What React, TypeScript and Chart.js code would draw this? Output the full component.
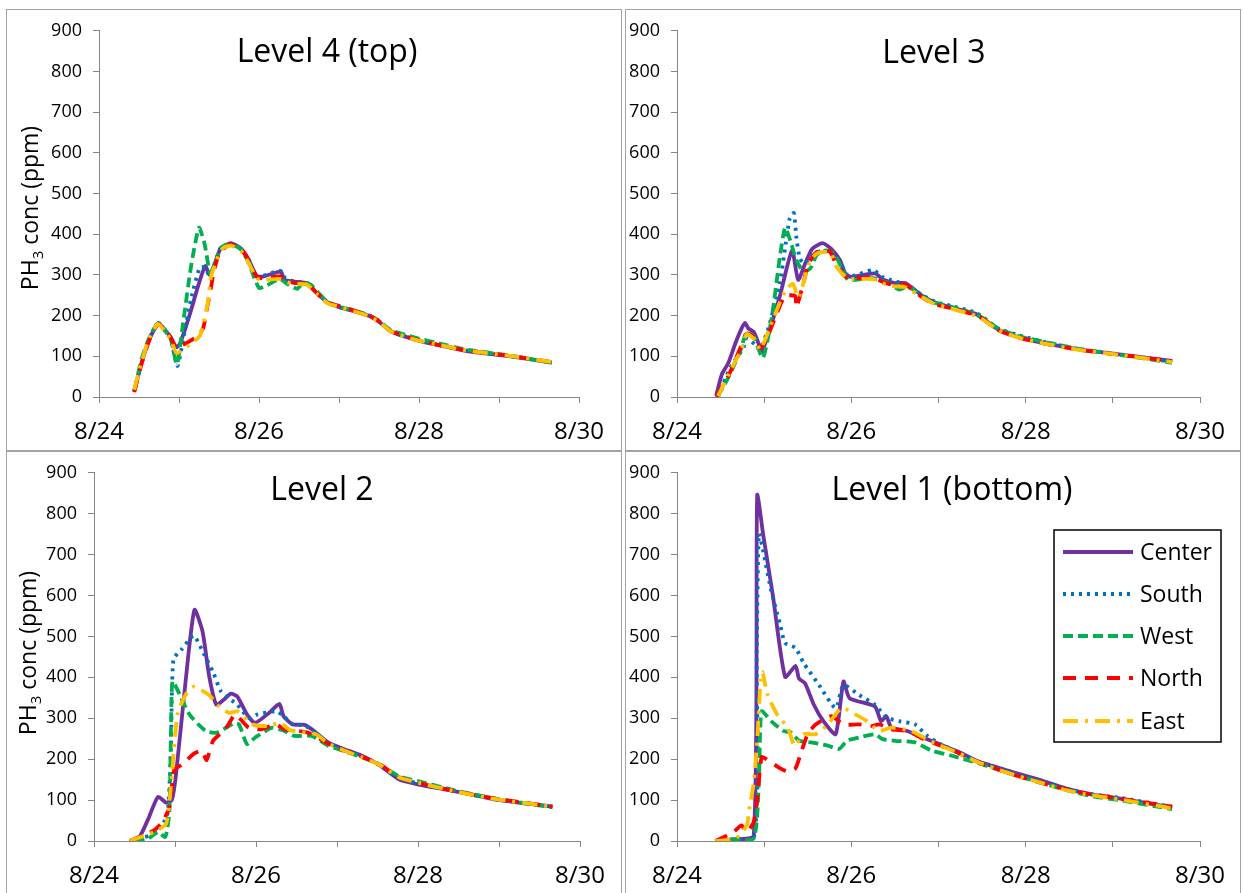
import { useEffect, useRef } from 'react';
import { Chart, registerables } from 'chart.js';

Chart.register(...registerables);

type Pt = [number, number];

// Each point: [days after 8/24 00:00, PH3 concentration in ppm]

// Level 4 (top)
const L4_CENTER: Pt[] = [[0.44,14],[0.53,82],[0.63,142],[0.74,180],[0.82,166],[0.9,146],[0.96,122],[1.01,130],[1.13,200],[1.25,280],[1.33,322],[1.38,300],[1.45,328],[1.52,365],[1.65,378],[1.78,364],[1.87,338],[1.97,298],[2.05,296],[2.27,308],[2.32,288],[2.42,284],[2.6,280],[2.72,256],[2.86,232],[3.0,221],[3.2,210],[3.38,199],[3.5,185],[3.65,161],[3.95,141],[4.2,129],[4.6,113],[5.1,101],[5.66,85]];
const L4_SOUTH: Pt[] = [[0.44,16],[0.53,84],[0.63,144],[0.74,182],[0.82,166],[0.9,140],[0.98,76],[1.05,140],[1.15,240],[1.26,318],[1.33,318],[1.38,298],[1.45,330],[1.52,366],[1.65,376],[1.78,362],[1.87,336],[1.97,296],[2.05,298],[2.27,310],[2.33,292],[2.45,284],[2.6,280],[2.72,256],[2.86,234],[3.0,222],[3.2,212],[3.38,200],[3.5,186],[3.65,162],[3.95,142],[4.2,130],[4.6,114],[5.1,101],[5.66,85]];
const L4_WEST: Pt[] = [[0.45,20],[0.53,92],[0.63,146],[0.74,182],[0.82,164],[0.9,140],[0.975,80],[1.05,180],[1.15,320],[1.25,416],[1.32,376],[1.39,304],[1.45,330],[1.53,368],[1.65,375],[1.78,362],[1.87,330],[2.0,268],[2.1,275],[2.26,290],[2.35,278],[2.48,266],[2.55,282],[2.65,276],[2.75,254],[2.87,232],[3.0,222],[3.2,212],[3.38,200],[3.5,187],[3.65,164],[3.95,146],[4.2,134],[4.6,116],[5.1,103],[5.66,84]];
const L4_NORTH: Pt[] = [[0.44,12],[0.53,80],[0.63,140],[0.74,180],[0.82,166],[0.9,144],[0.97,122],[1.05,128],[1.22,148],[1.3,168],[1.36,228],[1.4,268],[1.43,304],[1.51,356],[1.65,375],[1.78,362],[1.87,336],[1.97,296],[2.05,292],[2.27,296],[2.35,284],[2.45,280],[2.6,278],[2.72,256],[2.86,232],[3.0,224],[3.2,212],[3.38,200],[3.5,186],[3.65,162],[3.95,142],[4.2,130],[4.6,114],[5.1,102],[5.66,86]];
const L4_EAST: Pt[] = [[0.44,18],[0.53,84],[0.63,146],[0.74,180],[0.82,162],[0.9,140],[0.97,108],[1.13,128],[1.26,150],[1.31,184],[1.36,232],[1.4,296],[1.47,336],[1.55,366],[1.65,372],[1.78,358],[1.87,330],[1.97,292],[2.05,288],[2.27,290],[2.35,282],[2.45,278],[2.6,276],[2.72,254],[2.86,230],[3.0,222],[3.2,210],[3.38,198],[3.5,185],[3.65,161],[3.95,141],[4.2,130],[4.6,114],[5.1,102],[5.66,86]];

// Level 3
const L3_CENTER: Pt[] = [[0.45,4],[0.515,56],[0.59,84],[0.67,132],[0.74,168],[0.78,182],[0.82,168],[0.88,160],[0.935,132],[0.97,110],[1.05,156],[1.18,248],[1.32,360],[1.39,288],[1.47,328],[1.55,364],[1.67,378],[1.77,364],[1.87,336],[1.93,304],[2.0,295],[2.27,304],[2.37,288],[2.5,280],[2.62,280],[2.82,248],[2.96,232],[3.14,220],[3.42,205],[3.51,193],[3.69,165],[3.92,147],[4.2,133],[4.61,117],[5.07,105],[5.68,89]];
const L3_SOUTH: Pt[] = [[0.47,0],[0.61,72],[0.76,120],[0.8,144],[0.9,128],[0.95,116],[1.05,170],[1.18,280],[1.29,436],[1.34,452],[1.37,392],[1.41,340],[1.47,328],[1.55,350],[1.67,360],[1.77,356],[1.87,330],[1.95,300],[2.0,296],[2.25,312],[2.35,296],[2.45,288],[2.62,276],[2.82,250],[2.96,234],[3.14,224],[3.42,208],[3.51,196],[3.69,168],[3.92,152],[4.2,136],[4.61,118],[5.07,105],[5.68,86]];
const L3_WEST: Pt[] = [[0.46,0],[0.57,40],[0.725,112],[0.8,160],[0.88,148],[0.985,96],[1.09,200],[1.18,344],[1.24,416],[1.3,384],[1.37,336],[1.45,308],[1.53,316],[1.6,348],[1.7,360],[1.8,352],[1.88,322],[1.96,288],[2.05,288],[2.25,292],[2.4,282],[2.55,264],[2.65,272],[2.82,246],[2.96,232],[3.14,222],[3.42,204],[3.51,194],[3.69,168],[3.92,150],[4.2,136],[4.61,118],[5.07,104],[5.68,84]];
const L3_NORTH: Pt[] = [[0.45,0],[0.59,52],[0.725,120],[0.8,156],[0.9,144],[0.955,120],[1.03,144],[1.15,208],[1.24,248],[1.355,248],[1.37,220],[1.45,280],[1.51,328],[1.6,356],[1.75,358],[1.83,324],[1.93,296],[2.0,292],[2.25,292],[2.4,280],[2.5,276],[2.62,276],[2.82,244],[2.96,228],[3.14,218],[3.42,202],[3.51,192],[3.69,164],[3.92,146],[4.2,132],[4.61,116],[5.07,104],[5.68,88]];
const L3_EAST: Pt[] = [[0.47,2],[0.63,72],[0.745,120],[0.8,155],[0.9,140],[0.955,116],[1.09,184],[1.18,232],[1.25,264],[1.33,278],[1.39,244],[1.45,280],[1.52,330],[1.6,352],[1.75,356],[1.83,320],[1.93,296],[2.0,290],[2.25,290],[2.4,276],[2.5,272],[2.62,270],[2.82,244],[2.96,228],[3.14,218],[3.42,200],[3.51,190],[3.69,164],[3.92,146],[4.2,132],[4.61,116],[5.07,104],[5.68,86]];

// Level 2
const L2_CENTER: Pt[] = [[0.44,0],[0.55,6],[0.67,54],[0.79,108],[0.89,94],[0.96,100],[1.01,158],[1.13,389],[1.24,565],[1.34,512],[1.42,405],[1.51,333],[1.6,345],[1.69,360],[1.77,353],[1.89,309],[1.99,289],[2.16,313],[2.29,335],[2.34,305],[2.45,285],[2.6,284],[2.69,273],[2.89,241],[3.08,225],[3.3,209],[3.52,186],[3.77,150],[4.01,138],[4.45,122],[4.94,102],[5.66,84]];
const L2_SOUTH: Pt[] = [[0.44,0],[0.69,14],[0.84,38],[0.91,70],[0.95,229],[0.98,444],[1.08,468],[1.23,502],[1.35,460],[1.47,413],[1.57,365],[1.77,333],[1.91,301],[2.01,309],[2.25,317],[2.34,305],[2.45,286],[2.6,282],[2.69,272],[2.89,240],[3.08,224],[3.3,207],[3.52,186],[3.77,154],[4.01,140],[4.45,122],[4.94,103],[5.66,84]];
const L2_WEST: Pt[] = [[0.5,0],[0.67,6],[0.79,22],[0.88,10],[0.93,70],[0.95,269],[0.97,390],[1.06,357],[1.18,309],[1.38,269],[1.52,265],[1.72,287],[1.79,285],[1.89,237],[1.99,253],[2.2,277],[2.35,269],[2.47,257],[2.69,257],[2.89,233],[3.08,220],[3.3,205],[3.52,188],[3.77,158],[4.01,146],[4.45,124],[4.94,104],[5.66,82]];
const L2_NORTH: Pt[] = [[0.44,0],[0.74,26],[0.84,46],[0.93,82],[0.99,174],[1.08,186],[1.23,213],[1.33,221],[1.39,198],[1.47,245],[1.62,273],[1.74,309],[1.81,297],[1.91,277],[2.06,273],[2.25,285],[2.35,273],[2.64,265],[2.89,238],[3.08,222],[3.3,206],[3.52,188],[3.77,156],[4.01,142],[4.45,122],[4.94,104],[5.66,84]];
const L2_EAST: Pt[] = [[0.44,0],[0.74,22],[0.89,42],[0.95,134],[1.03,309],[1.13,357],[1.23,377],[1.42,357],[1.52,333],[1.67,313],[1.77,317],[1.96,285],[2.16,281],[2.3,289],[2.42,271],[2.74,261],[2.89,238],[3.08,222],[3.3,205],[3.52,187],[3.77,155],[4.01,142],[4.45,122],[4.94,103],[5.66,84]];

// Level 1 (bottom)
const L1_CENTER: Pt[] = [[0.44,0],[0.63,4],[0.88,13],[0.92,845],[0.99,747],[1.1,600],[1.24,401],[1.36,428],[1.4,397],[1.47,385],[1.57,333],[1.68,293],[1.82,261],[1.91,390],[1.98,349],[2.27,329],[2.34,293],[2.4,305],[2.46,277],[2.64,269],[2.82,253],[3.01,237],[3.24,217],[3.46,194],[3.83,170],[4.15,150],[4.47,128],[4.75,114],[5.07,104],[5.68,82]];
const L1_SOUTH: Pt[] = [[0.44,0],[0.88,6],[0.915,468],[0.94,751],[0.99,707],[1.08,612],[1.18,532],[1.24,484],[1.36,472],[1.45,436],[1.63,381],[1.82,325],[1.91,381],[2.09,357],[2.27,333],[2.41,301],[2.55,293],[2.73,285],[2.87,257],[3.01,238],[3.24,216],[3.46,194],[3.83,168],[4.15,148],[4.47,128],[4.75,115],[5.07,106],[5.68,84]];
const L1_WEST: Pt[] = [[0.44,0],[0.63,4],[0.88,6],[0.94,150],[0.97,317],[1.08,293],[1.22,269],[1.31,265],[1.4,245],[1.54,241],[1.73,233],[1.86,225],[1.95,245],[2.09,253],[2.27,261],[2.36,249],[2.5,245],[2.73,241],[2.92,221],[3.14,209],[3.46,190],[3.83,164],[4.15,144],[4.47,124],[4.75,110],[5.07,100],[5.68,78]];
const L1_NORTH: Pt[] = [[0.44,0],[0.54,10],[0.65,22],[0.74,38],[0.8,22],[0.88,46],[0.92,102],[0.97,205],[1.02,201],[1.18,178],[1.27,170],[1.36,178],[1.43,221],[1.5,261],[1.59,285],[1.77,305],[1.91,285],[2.09,285],[2.23,281],[2.32,285],[2.46,273],[2.64,269],[2.82,250],[3.01,234],[3.24,214],[3.46,192],[3.83,164],[4.15,144],[4.47,126],[4.75,114],[5.07,104],[5.68,84]];
const L1_EAST: Pt[] = [[0.44,0],[0.67,6],[0.8,38],[0.83,78],[0.88,142],[0.92,245],[0.96,397],[0.98,413],[1.04,357],[1.15,309],[1.27,277],[1.35,233],[1.45,261],[1.59,261],[1.73,285],[1.89,325],[2.05,309],[2.18,293],[2.32,269],[2.46,277],[2.69,269],[2.87,248],[3.01,234],[3.24,214],[3.46,192],[3.83,164],[4.15,144],[4.47,124],[4.75,112],[5.07,102],[5.68,80]];

const SERIES_NAMES = ['Center', 'South', 'West', 'North', 'East'];
const SERIES_COLORS = ['#7030A0', '#0070C0', '#00B050', '#FF0000', '#FFC000'];
const SERIES_DASHES: number[][] = [[], [3, 5], [10, 5], [13, 9], [15, 7, 3, 7]];

const X_TICK_LABELS = ['8/24', '', '8/26', '', '8/28', '', '8/30'];
const Y_MIN = 0;
const Y_MAX = 900;
const Y_STEP = 100;

const FONT = '"Open Sans", "DejaVu Sans", sans-serif';
const AXIS_GREY = '#868686';
const FRAME_GREY = '#a3a3a3';
const LINE_W = 3.8;
const X_AXIS_H = 50;

type Box = { left: number; top: number; w: number; h: number };
type Area = { l: number; r: number; t: number; b: number };
type Panel = {
  title: string;
  series: Pt[][];
  box: Box;
  area: Area;
  titleAt: [number, number];
  yTitleAt: [number, number] | null;
  legend: boolean;
};

const PANELS: Panel[] = [
  {
    title: 'Level 4 (top)',
    series: [L4_CENTER, L4_SOUTH, L4_WEST, L4_NORTH, L4_EAST],
    box: { left: 6, top: 9, w: 616, h: 442 },
    area: { l: 93, r: 573, t: 12, b: 388 },
    titleAt: [321, 53],
    yTitleAt: [32, 199],
    legend: false,
  },
  {
    title: 'Level 3',
    series: [L3_CENTER, L3_SOUTH, L3_WEST, L3_NORTH, L3_EAST],
    box: { left: 625, top: 9, w: 616, h: 442 },
    area: { l: 52, r: 575, t: 12, b: 388 },
    titleAt: [309, 54],
    yTitleAt: null,
    legend: false,
  },
  {
    title: 'Level 2',
    series: [L2_CENTER, L2_SOUTH, L2_WEST, L2_NORTH, L2_EAST],
    box: { left: 6, top: 451, w: 616, h: 444 },
    area: { l: 88, r: 574, t: 13, b: 390 },
    titleAt: [316, 49],
    yTitleAt: [30, 202],
    legend: false,
  },
  {
    title: 'Level 1 (bottom)',
    series: [L1_CENTER, L1_SOUTH, L1_WEST, L1_NORTH, L1_EAST],
    box: { left: 625, top: 451, w: 616, h: 444 },
    area: { l: 52, r: 575, t: 13, b: 390 },
    titleAt: [327, 49],
    yTitleAt: null,
    legend: true,
  },
];

// Frame, heading, rotated axis title (with subscript) and the legend box.
function decorPlugin(panel: Panel) {
  return {
    id: 'panelDecor',
    beforeDraw(chart: Chart) {
      const ctx = chart.ctx;
      ctx.save();
      ctx.fillStyle = '#ffffff';
      ctx.fillRect(0, 0, chart.width, chart.height);
      ctx.strokeStyle = FRAME_GREY;
      ctx.lineWidth = 1;
      ctx.strokeRect(0.5, 0.5, chart.width - 1, chart.height - 1);
      ctx.restore();
    },
    afterDraw(chart: Chart) {
      const ctx = chart.ctx;
      ctx.save();
      ctx.fillStyle = '#000000';
      ctx.textAlign = 'center';
      ctx.textBaseline = 'alphabetic';
      ctx.font = `32px ${FONT}`;
      ctx.fillText(panel.title, panel.titleAt[0], panel.titleAt[1]);

      if (panel.yTitleAt) {
        const big = `23px ${FONT}`;
        const small = `15px ${FONT}`;
        ctx.translate(panel.yTitleAt[0], panel.yTitleAt[1]);
        ctx.rotate(-Math.PI / 2);
        ctx.textAlign = 'left';
        ctx.font = big;
        const w1 = ctx.measureText('PH').width;
        const w3 = ctx.measureText(' conc (ppm)').width;
        ctx.font = small;
        const w2 = ctx.measureText('3').width;
        const x0 = -(w1 + w2 + w3) / 2;
        ctx.font = big;
        ctx.fillText('PH', x0, 0);
        ctx.font = small;
        ctx.fillText('3', x0 + w1, 5);
        ctx.font = big;
        ctx.fillText(' conc (ppm)', x0 + w1 + w2, 0);
        ctx.setTransform(1, 0, 0, 1, 0, 0);
      }

      if (panel.legend) {
        const lx = 429, ly = 79, lw = 167, lh = 212;
        ctx.strokeStyle = '#000000';
        ctx.lineWidth = 1.5;
        ctx.setLineDash([]);
        ctx.strokeRect(lx, ly, lw, lh);
        const rows = [101, 143, 185, 227, 270];
        SERIES_NAMES.forEach((name, i) => {
          const y = rows[i];
          ctx.beginPath();
          ctx.setLineDash(SERIES_DASHES[i]);
          ctx.strokeStyle = SERIES_COLORS[i];
          ctx.lineWidth = LINE_W;
          ctx.moveTo(438, y);
          ctx.lineTo(508, y);
          ctx.stroke();
          ctx.setLineDash([]);
          ctx.fillStyle = '#000000';
          ctx.font = `23px ${FONT}`;
          ctx.textAlign = 'left';
          ctx.textBaseline = 'alphabetic';
          ctx.fillText(name, 515, y + 8);
        });
      }
      ctx.restore();
    },
  };
}

function LevelChart({ panel }: { panel: Panel }) {
  const ref = useRef<HTMLCanvasElement | null>(null);

  useEffect(() => {
    const canvas = ref.current;
    if (!canvas) return;
    const { box, area } = panel;
    const datasets = panel.series.map((pts, i) => ({
      label: SERIES_NAMES[i],
      data: pts.map(([x, y]) => ({ x, y })),
      borderColor: SERIES_COLORS[i],
      backgroundColor: SERIES_COLORS[i],
      borderWidth: LINE_W,
      borderDash: SERIES_DASHES[i],
      borderCapStyle: 'butt' as const,
      pointRadius: 0,
      tension: 0.2,
      fill: false,
      order: SERIES_NAMES.length - 1 - i,
    }));

    const chart = new Chart(canvas, {
      type: 'line',
      data: { datasets },
      plugins: [decorPlugin(panel)],
      options: {
        animation: false,
        responsive: false,
        maintainAspectRatio: false,
        layout: {
          padding: {
            left: 0,
            right: box.w - area.r,
            top: area.t,
            bottom: box.h - area.b - X_AXIS_H,
          },
        },
        plugins: {
          legend: { display: false },
          tooltip: { enabled: false },
          title: { display: false },
        },
        scales: {
          x: {
            type: 'linear',
            min: 0,
            max: X_TICK_LABELS.length - 1,
            afterFit: (s: any) => {
              s.height = X_AXIS_H;
            },
            ticks: {
              stepSize: 1,
              autoSkip: false,
              maxRotation: 0,
              padding: 15,
              color: '#000000',
              font: { family: FONT, size: 24 },
              callback: (v: any) => X_TICK_LABELS[Math.round(Number(v))] ?? '',
            },
            grid: { drawOnChartArea: false, drawTicks: true, tickLength: 6, color: AXIS_GREY },
            border: { color: AXIS_GREY, width: 1 },
          },
          y: {
            type: 'linear',
            min: Y_MIN,
            max: Y_MAX,
            afterFit: (s: any) => {
              s.width = area.l;
            },
            ticks: {
              stepSize: Y_STEP,
              padding: 11,
              color: '#000000',
              font: { family: FONT, size: 18 },
            },
            grid: { drawOnChartArea: false, drawTicks: true, tickLength: 6, color: AXIS_GREY },
            border: { color: AXIS_GREY, width: 1 },
          },
        },
      },
    });
    return () => chart.destroy();
  }, [panel]);

  return (
    <canvas
      ref={ref}
      width={panel.box.w}
      height={panel.box.h}
      style={{
        position: 'absolute',
        left: panel.box.left,
        top: panel.box.top,
        width: panel.box.w,
        height: panel.box.h,
      }}
    />
  );
}

export default function App() {
  return (
    <div
      style={{
        position: 'fixed',
        left: 0,
        top: 0,
        width: 1244,
        height: 893,
        overflow: 'hidden',
        background: '#ffffff',
      }}
    >
      {PANELS.map((p) => (
        <LevelChart key={p.title} panel={p} />
      ))}
    </div>
  );
}
